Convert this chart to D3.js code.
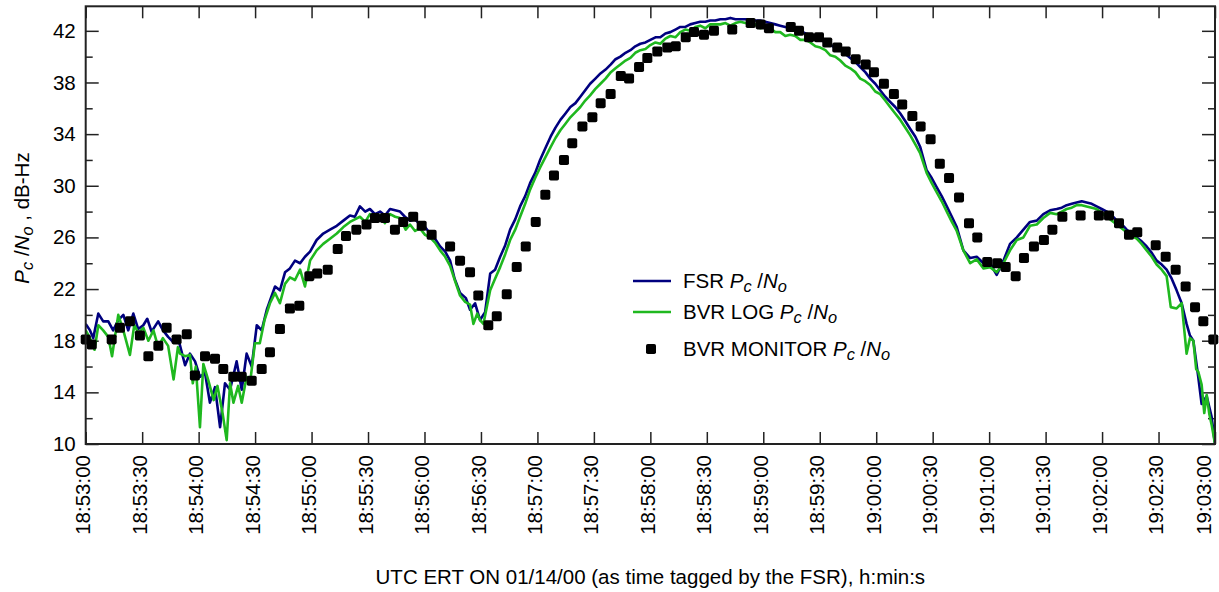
<!DOCTYPE html>
<html>
<head>
<meta charset="utf-8">
<script src="https://cdn.jsdelivr.net/npm/d3@7"></script>
<style>
  body { margin: 0; background: #fff; }
  svg { font-family: "Liberation Sans", Arial, sans-serif; }
</style>
</head>
<body>
<div id="chart"></div>
<script>
// seconds after 18:53:00 UTC, 01/14/00
const fsrT = [0, 2.3, 4, 6.7, 9.3, 12, 14.6, 17.3, 20, 22.6, 25.3, 27.9, 30.6, 32.7, 35, 38.5, 41.1, 43.8, 46.5, 49.1,
  52.8, 55.4, 58.1, 60.7, 63.4, 66, 68.7, 71.4, 74, 76.7, 80.2, 82.9, 85.5, 88.2, 90.9, 93.5, 96.2, 97.9, 100.6, 103.2,
  105.9, 108.5, 111.2, 113.9, 116.5, 119.2, 122.7, 126.2, 129.8, 133.4, 136.9, 140.4, 143, 145.7, 148.5, 151, 153.7, 156.4, 159, 161.7,
  164.4, 167, 169.6, 172.3, 175, 177.6, 180.3, 182.9, 185.6, 188.3, 191, 193.6, 196, 198.9, 202, 204.2, 206.9, 209.5, 212.2, 214.9,
  217.5, 220.2, 222.9, 225.5, 228.2, 230.8, 233.5, 236.1, 238.8, 241.4, 244.2, 247, 249.6, 252.2, 254.9, 257.5, 260.2, 262.8, 265.4, 268,
  270.8, 273.5, 276.2, 279, 281.5, 284.1, 286.8, 289.4, 292, 294.7, 297.4, 300, 302.7, 305.3, 308, 310.6, 313.3, 315.9, 318.6, 321.2,
  323.9, 326.5, 329.2, 331.8, 334.5, 337.2, 339.9, 342.5, 345.2, 347.8, 350.5, 353.1, 355.8, 358.4, 361, 363.7, 366.4, 369, 371.7, 374.3,
  377, 379.7, 382.4, 385, 387.7, 390.3, 393, 395.6, 398.3, 400.9, 403.6, 406.2, 408.9, 411.5, 414.2, 416.8, 419.5, 422.1, 424.8, 427.4,
  430.1, 432.8, 435.5, 438.1, 440.8, 443.4, 446.8, 449.5, 452.1, 454.8, 457.5, 460.2, 462.8, 466.3, 469.9, 473.4, 477, 480.5, 484, 487.6,
  491.1, 494.7, 498.2, 501.7, 505.3, 508.8, 512.4, 515.9, 518.6, 521.2, 523.9, 526.5, 529.2, 531.8, 534.5, 537.1, 539.8, 542.5, 545.2, 547.8,
  550.5, 553.1, 555.8, 558.4, 561, 563.7, 566.4, 569, 571.7, 574.3, 577, 579.6, 582.3, 584.9, 586.7, 588.5, 591.1, 592.9, 595.6, 598.2, 600];
const fsrV = [19.3, 18.8, 18.2, 20.1, 19.5, 19.5, 18.8, 19.6, 20.0, 18.8, 20.1, 18.9, 19.2, 19.7, 18.7, 19.5, 18.8, 18.3, 17.9, 18.2,
  16.1, 17.0, 16.4, 15.2, 15.5, 13.2, 14.4, 11.3, 14.7, 14.2, 16.4, 14.2, 17.0, 16.0, 19.2, 18.8, 20.4, 21.1, 22.2, 21.9,
  23.3, 23.6, 24.2, 24.0, 24.5, 24.9, 25.8, 26.3, 26.6, 26.9, 27.3, 27.7, 27.6, 28.4, 28.0, 28.2, 27.8, 28.0, 27.7, 28.2,
  28.1, 28.0, 27.6, 27.3, 27.4, 27.0, 26.8, 26.3, 25.9, 25.3, 24.9, 24.2, 22.8, 21.7, 21.3, 20.4, 20.9, 19.6, 20.2, 23.2,
  23.5, 24.5, 25.4, 26.6, 27.4, 28.4, 29.2, 30.2, 31.0, 32.0, 32.9, 33.8, 34.5, 35.1, 35.6, 36.1, 36.4, 36.9, 37.4, 37.9,
  38.3, 38.7, 39.0, 39.4, 39.8, 40.0, 40.3, 40.5, 40.8, 41.0, 41.1, 41.3, 41.5, 41.5, 41.8, 41.9, 42.1, 42.3, 42.3, 42.5,
  42.6, 42.7, 42.7, 42.8, 42.8, 42.9, 42.9, 43.0, 42.9, 42.9, 42.9, 42.9, 42.8, 42.8, 42.7, 42.6, 42.5, 42.4, 42.3, 42.2,
  42.1, 42.0, 41.8, 41.7, 41.5, 41.3, 41.1, 40.9, 40.7, 40.5, 40.2, 39.9, 39.6, 39.2, 38.8, 38.3, 37.9, 37.4, 36.9, 36.5,
  36.1, 35.6, 35.0, 34.4, 33.8, 33.0, 31.2, 30.6, 29.9, 29.2, 28.4, 27.6, 26.8, 25.0, 24.4, 24.5, 24.0, 24.0, 23.1, 24.2,
  25.5, 26.0, 26.6, 27.2, 27.3, 27.8, 28.1, 28.2, 28.3, 28.5, 28.6, 28.7, 28.8, 28.7, 28.6, 28.4, 28.2, 28.0, 27.7, 27.3,
  27.0, 26.6, 26.3, 26.0, 25.7, 25.3, 24.8, 24.2, 23.9, 23.5, 22.8, 21.9, 20.9, 19.3, 18.4, 18.0, 15.2, 13.1, 13.7, 12.1, 10.0];

const logT = [0, 2.3, 4.7, 6.7, 9.3, 12, 14, 17.3, 20, 23.5, 25.8, 28, 30.6, 33.3, 36, 38.5, 41, 43.8, 46.7, 49,
  50.1, 52.8, 55.4, 56.9, 58.5, 60.7, 62.5, 65, 68, 70, 72.7, 74.9, 76.7, 78.5, 81, 82.9, 85.5, 87.3, 89.9, 92.5,
  95, 97.9, 100.6, 103.2, 105.9, 108.5, 111.2, 113.9, 116.5, 119.2, 122.7, 126.2, 129.8, 133.4, 136.9, 140.4, 143, 145.7, 148.5, 151,
  153.7, 156.4, 159, 161.7, 164.4, 167, 170, 172.3, 175, 177.6, 180.3, 182.9, 185.6, 188.3, 191, 193.6, 196.3, 198.9, 201.6, 204.2,
  206, 208, 209.5, 211.3, 214.9, 217.5, 220.2, 222.9, 225.5, 228.2, 230.8, 233.5, 236.1, 238.8, 241.4, 244.2, 247, 249.6, 252.2, 254.9,
  257.5, 260.2, 262.8, 265.4, 268, 270.8, 273.5, 276.2, 279, 281.5, 284.1, 286.8, 289.4, 292, 294.7, 297.4, 300, 302.7, 305.3, 308,
  310.6, 313.3, 315.9, 318.6, 321.2, 323.9, 326.5, 329.2, 331.8, 334.5, 337.2, 339.9, 342.5, 345.2, 347.8, 350.5, 353.1, 355.8, 358.4, 361,
  363.7, 366.4, 369, 371.7, 374.3, 377, 379.7, 382.4, 385, 387.7, 390.3, 393, 395.6, 398.3, 400.9, 403.6, 406.2, 408.9, 411.5, 414.2,
  416.8, 419.5, 422.1, 424.8, 427.4, 430.1, 432.8, 435.5, 438.1, 440.8, 443.4, 446.8, 449.5, 452.1, 454.8, 457.5, 460.2, 462.8, 466.3, 469.9,
  473.4, 477, 480.5, 484, 487.6, 491.1, 494.7, 498.2, 501.7, 505.3, 508.8, 512.4, 515.9, 518.6, 521.2, 523.9, 526.5, 529.2, 531.8, 534.5,
  537.1, 539.8, 542.5, 545.2, 547.8, 550.5, 553.1, 555.8, 558.4, 561, 563.7, 566.4, 569, 571.7, 574.3, 576.5, 579.6, 582.3, 584.9, 586.7,
  588.5, 590, 591.1, 592.9, 594.3, 595.6, 597, 598.2, 600];
const logV = [18.8, 18.2, 17.3, 19.2, 18.8, 18.3, 16.8, 20.0, 18.8, 16.9, 19.2, 18.6, 19.0, 18.0, 18.8, 17.5, 18.2, 17.6, 15.0, 17.5,
  17.0, 16.8, 16.9, 14.7, 16.0, 11.3, 16.2, 15.0, 13.4, 14.5, 12.4, 10.3, 14.7, 13.2, 14.5, 13.2, 15.2, 14.7, 17.8, 17.8,
  19.6, 20.9, 21.7, 20.9, 22.4, 22.9, 22.7, 23.5, 22.2, 24.2, 25.0, 25.5, 25.9, 26.3, 26.8, 27.2, 27.4, 27.6, 27.2, 27.8,
  27.5, 27.7, 27.1, 27.8, 27.6, 27.5, 26.6, 27.0, 26.5, 26.7, 26.2, 26.0, 25.6, 25.0, 24.5, 23.8, 22.6, 21.5, 21.0, 20.8,
  19.3, 20.1, 19.6, 19.3, 21.9, 22.8, 23.7, 24.7, 25.8, 26.6, 27.6, 28.6, 29.7, 30.6, 31.4, 32.2, 33.0, 33.7, 34.3, 34.8,
  35.3, 35.7, 36.1, 36.6, 37.0, 37.5, 37.9, 38.3, 38.8, 39.1, 39.4, 39.7, 39.9, 40.3, 40.5, 40.6, 40.9, 41.1, 41.0, 41.4,
  41.6, 41.5, 41.9, 42.1, 42.0, 42.3, 42.4, 42.2, 42.5, 42.5, 42.5, 42.6, 42.4, 42.6, 42.7, 42.6, 42.5, 42.5, 42.2, 42.3,
  42.2, 41.9, 41.9, 41.6, 41.7, 41.6, 41.3, 41.3, 41.1, 40.8, 40.7, 40.5, 40.1, 40.0, 39.7, 39.3, 39.1, 38.8, 38.3, 38.1,
  37.8, 37.3, 37.1, 36.6, 36.1, 35.6, 35.1, 34.5, 33.9, 33.2, 32.5, 31.0, 30.2, 29.5, 28.8, 28.0, 27.2, 26.5, 25.0, 24.0,
  24.3, 23.6, 23.7, 23.3, 24.0, 25.0, 25.8, 26.0, 26.9, 27.0, 27.5, 27.9, 27.8, 28.0, 28.2, 28.3, 28.5, 28.5, 28.4, 28.3,
  28.2, 27.9, 27.6, 27.3, 27.0, 26.7, 26.4, 26.1, 25.9, 25.5, 25.0, 24.5, 23.9, 23.5, 23.0, 20.6, 20.5, 20.9, 17.0, 18.2,
  18.0, 15.8, 15.6, 14.6, 12.4, 13.8, 12.3, 11.5, 10.0];

const monT = [0, 3.2, 13.8, 18.2, 23.5, 28.8, 33.3, 38.6, 43, 48.3, 53.7, 58, 63.4, 68.7, 73.1, 78.4, 82.9, 88.2, 93.5, 97.9,
  103.2, 108.5, 113.5, 118.8, 123, 128.6, 133.9, 138.3, 143.8, 149.2, 153.7, 159, 164.3, 168.7, 174, 178.5, 183.8, 193.6, 198.9, 204.2,
  208.6, 213.9, 218.4, 223.7, 229, 233.8, 239.1, 244.2, 248.8, 254.1, 258.5, 263.9, 269.2, 273.6, 278.9, 284.3, 288.7, 294, 298.4, 303.7,
  309, 313.5, 318.8, 323.2, 328.5, 333.8, 343.5, 353.3, 358.6, 363, 374.6, 379, 384.3, 389.6, 394, 399.3, 403.8, 409.1, 414.4, 418.8,
  424.1, 429.4, 433.8, 439.2, 443.6, 448.9, 453.8, 458.7, 464, 469.3, 473.7, 479, 484.3, 488.8, 494.1, 498.5, 503.8, 509.1, 513.6, 518.9,
  528.6, 538.3, 543.7, 549, 554.3, 558.7, 568.5, 573.8, 579.1, 584.4, 589.4, 593.8, 599.1];
const monV = [18.1, 17.7, 18.1, 19.0, 19.5, 18.4, 16.8, 17.6, 19.0, 18.1, 18.5, 15.3, 16.8, 16.6, 15.8, 15.2, 15.2, 14.9, 15.8, 17.1,
  18.9, 20.5, 20.7, 23.0, 23.2, 23.5, 25.1, 26.1, 26.6, 27.0, 27.5, 27.5, 26.6, 27.2, 27.6, 26.9, 26.2, 25.3, 24.2, 23.3,
  21.5, 19.2, 19.9, 21.6, 23.7, 25.3, 27.2, 29.3, 30.8, 32.0, 33.3, 34.6, 35.3, 36.4, 37.1, 38.5, 38.3, 39.2, 39.9, 40.4,
  40.7, 40.8, 41.5, 41.9, 41.7, 42.0, 42.1, 42.6, 42.5, 42.2, 42.3, 42.0, 41.5, 41.5, 41.1, 40.7, 40.4, 39.8, 39.4, 38.8,
  37.9, 37.1, 36.3, 35.4, 34.6, 33.6, 31.7, 30.6, 29.1, 27.1, 26.0, 24.1, 24.0, 23.7, 23.0, 24.4, 25.3, 25.8, 26.6, 27.6,
  27.7, 27.7, 27.7, 27.1, 26.2, 26.4, 25.4, 24.5, 23.5, 22.2, 20.6, 19.5, 18.1];

const yMajor = [10, 14, 18, 22, 26, 30, 34, 38, 42];
const yMinor = [12, 16, 20, 24, 28, 32, 36, 40];

const width = 1219;
const height = 592;
const plot = { left: 85.7, right: 1215, top: 6.3, bottom: 444 };
const fontPx = 20.5;
const font = fontPx + "px";

const t0 = new Date(2000, 0, 14, 18, 53, 0);
const toDate = (s) => new Date(t0.getTime() + s * 1000);

const svg = d3.select("#chart")
  .append("svg")
  .attr("width", width)
  .attr("height", height);

const x = d3.scaleTime()
  .domain([t0, toDate(600)])
  .range([plot.left, plot.right]);
const y = d3.scaleLinear()
  .domain([10, 43.9])
  .range([plot.bottom, plot.top]);

const xTicks = d3.range(0, 601, 30).map(toDate);

// bottom axis with rotated labels
const xAxis = svg.append("g")
  .attr("transform", `translate(0,${plot.bottom})`)
  .call(d3.axisBottom(x).tickValues(xTicks).tickFormat(d3.timeFormat("%H:%M:%S")).tickSize(-12).tickPadding(0));
xAxis.selectAll("text")
  .attr("transform", "rotate(-90)")
  .attr("text-anchor", "end")
  .attr("x", -11)
  .attr("y", 0)
  // last label pulled in so it stays inside the page
  .attr("dy", (d, i) => (i === xTicks.length - 1 ? "-0.2em" : "0.2em"))
  .style("font-size", font)
  .attr("fill", "#000");

// top ticks
svg.append("g")
  .attr("transform", `translate(0,${plot.top})`)
  .call(d3.axisTop(x).tickValues(xTicks).tickSize(-12).tickFormat(""));

// left axis
svg.append("g")
  .attr("transform", `translate(${plot.left},0)`)
  .call(d3.axisLeft(y).tickValues(yMajor).tickSize(-13).tickPadding(10))
  .selectAll("text")
  .style("font-size", font)
  .attr("fill", "#000");
svg.append("g")
  .attr("transform", `translate(${plot.left},0)`)
  .call(d3.axisLeft(y).tickValues(yMinor).tickSize(-7).tickFormat(""));

// right ticks
svg.append("g")
  .attr("transform", `translate(${plot.right},0)`)
  .call(d3.axisRight(y).tickValues(yMajor).tickSize(-13).tickFormat(""));
svg.append("g")
  .attr("transform", `translate(${plot.right},0)`)
  .call(d3.axisRight(y).tickValues(yMinor).tickSize(-7).tickFormat(""));

svg.selectAll(".domain").remove();
svg.selectAll(".tick line").attr("stroke", "#222").attr("stroke-width", 1.5);

svg.append("clipPath").attr("id", "clip")
  .append("rect")
  .attr("x", plot.left)
  .attr("y", plot.top)
  .attr("width", plot.right - plot.left)
  .attr("height", plot.bottom - plot.top + 2);

const line = d3.line()
  .x((d) => x(toDate(d[0])))
  .y((d) => y(d[1]));

const fsr = d3.zip(fsrT, fsrV);
const bvrLog = d3.zip(logT, logV);
const mon = d3.zip(monT, monV);

const lines = svg.append("g").attr("clip-path", "url(#clip)");
lines.append("path")
  .datum(fsr)
  .attr("fill", "none")
  .attr("stroke", "#00007f")
  .attr("stroke-width", 2.6)
  .attr("stroke-linejoin", "round")
  .attr("d", line);
lines.append("path")
  .datum(bvrLog)
  .attr("fill", "none")
  .attr("stroke", "#1fb81f")
  .attr("stroke-width", 2.6)
  .attr("stroke-linejoin", "round")
  .attr("d", line);

svg.append("g")
  .selectAll("rect")
  .data(mon)
  .join("rect")
  .attr("x", (d) => x(toDate(d[0])) - 5)
  .attr("y", (d) => y(d[1]) - 5)
  .attr("width", 10)
  .attr("height", 10)
  .attr("rx", 1.8)
  .attr("fill", "#000");

// frame
svg.append("rect")
  .attr("x", plot.left)
  .attr("y", plot.top)
  .attr("width", plot.right - plot.left)
  .attr("height", plot.bottom - plot.top)
  .attr("fill", "none")
  .attr("stroke", "#222")
  .attr("stroke-width", 2);

// P_c/N_o label as tspans
function pcno(sel, size) {
  sel.append("tspan").attr("font-style", "italic").text("P");
  sel.append("tspan").attr("font-style", "italic").attr("font-size", size * 0.8)
    .attr("baseline-shift", "-25%").text("c");
  sel.append("tspan").text(" /");
  sel.append("tspan").attr("font-style", "italic").text("N");
  sel.append("tspan").attr("font-style", "italic").attr("font-size", size * 0.8)
    .attr("baseline-shift", "-25%").text("o");
}

// axis titles
svg.append("text")
  .attr("x", (plot.left + plot.right) / 2)
  .attr("y", 584)
  .attr("text-anchor", "middle")
  .style("font-size", font)
  .text("UTC ERT ON 01/14/00 (as time tagged by the FSR), h:min:s");

const yTitle = svg.append("text")
  .attr("transform", "translate(29,218) rotate(-90)")
  .attr("text-anchor", "middle")
  .style("font-size", font);
pcno(yTitle, fontPx);
yTitle.append("tspan").text(" , dB-Hz");

// legend
const legend = svg.append("g").attr("transform", "translate(633,0)");
const legendItems = [
  { label: "FSR ", y: 281, type: "line", color: "#00007f" },
  { label: "BVR LOG ", y: 312, type: "line", color: "#1fb81f" },
  { label: "BVR MONITOR ", y: 349, type: "square", color: "#000" },
];
legendItems.forEach((d) => {
  if (d.type === "line") {
    legend.append("line")
      .attr("x1", 0).attr("x2", 38)
      .attr("y1", d.y).attr("y2", d.y)
      .attr("stroke", d.color)
      .attr("stroke-width", 2.6);
  } else {
    legend.append("rect")
      .attr("x", 13).attr("y", d.y - 5)
      .attr("width", 10).attr("height", 10)
      .attr("rx", 1.8)
      .attr("fill", d.color);
  }
  const t = legend.append("text")
    .attr("x", 50)
    .attr("y", d.y + 7)
    .style("font-size", font);
  t.append("tspan").text(d.label);
  pcno(t, fontPx);
});
</script>
</body>
</html>
